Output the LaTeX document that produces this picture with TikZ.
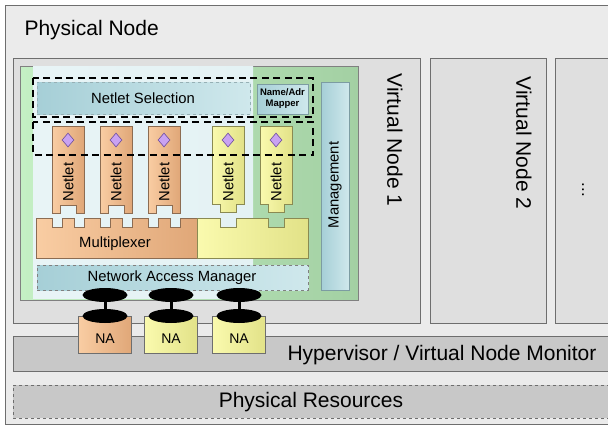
\documentclass[tikz,border=0pt]{standalone}
\usepackage{fontspec}
\setmainfont{Liberation Sans}
\usetikzlibrary{shapes.geometric}

\definecolor{outergray}{HTML}{EBEBEB}
\definecolor{vngray}{HTML}{DFDFDF}
\definecolor{framegray}{HTML}{6E6E6E}
\definecolor{layergray}{HTML}{C8C8C8}
\definecolor{greenL}{HTML}{C4EFC4}
\definecolor{greenR}{HTML}{A3D0A3}
\definecolor{paleL}{HTML}{E8F4F6}
\definecolor{paleM}{HTML}{BCDFE5}
\definecolor{paleR}{HTML}{E4F2F4}
\definecolor{tealL}{HTML}{A6CFD7}
\definecolor{tealR}{HTML}{CFE8EC}
\definecolor{tealline}{HTML}{7C9CA2}
\definecolor{orangeL}{HTML}{F9CDA3}
\definecolor{orangeR}{HTML}{E0A778}
\definecolor{orangeline}{HTML}{8C6C52}
\definecolor{yellowL}{HTML}{FAFAAE}
\definecolor{yellowR}{HTML}{E2E288}
\definecolor{yellowline}{HTML}{8A8A52}
\definecolor{lilac}{HTML}{C9A2F2}
\definecolor{lilacline}{HTML}{6E4E9E}

\begin{document}
\begin{tikzpicture}[x=1pt,y=-1pt,
  big/.style={font=\fontsize{21}{25}\selectfont},
  mid/.style={font=\fontsize{14.8}{17}\selectfont},
  frame/.style={draw=framegray, line width=0.9pt},
  corner/.style={anchor=north west, inner sep=0pt},
  netorange/.style={draw=orangeline, line width=0.7pt, left color=orangeL, right color=orangeR},
  netyellow/.style={draw=yellowline, line width=0.7pt, left color=yellowL, right color=yellowR},
  netdia/.style={diamond, draw=lilacline, fill=lilac, line width=0.6pt,
    minimum width=12, minimum height=14, inner sep=0pt},
  tealbox/.style={corner, draw=tealline, line width=0.7pt, left color=tealL, right color=tealR},
  sel/.style={draw=black, line width=2.2pt, dash pattern=on 7pt off 4.5pt},
  disc/.style={ellipse, fill=black, minimum width=45, minimum height=14, inner sep=0pt},
  stem/.style={line width=3pt},
  nabox/.style={draw=framegray, line width=0.7pt, minimum width=53, minimum height=37, inner sep=0pt},
  naorange/.style={left color=orangeL, right color=orangeR},
  nayellow/.style={left color=yellowL, right color=yellowR},
]
\useasboundingbox (0,0) rectangle (608,426);
\clip (0,0) rectangle (608,426);

% 物理节点
\node[corner, frame, fill=outergray, minimum width=620, minimum height=419] (phys) at (5,5) {};
\node[big, anchor=west] (physlabel) at (21,30) {Physical Node};

% 虚拟节点
\node[corner, frame, fill=vngray, minimum width=407, minimum height=265] (vn1) at (13,58) {};
\node[corner, frame, fill=vngray, minimum width=116, minimum height=265] (vn2) at (430,58) {};
\node[corner, frame, fill=vngray, minimum width=70, minimum height=265] (vn3) at (555,58) {};
\node[big, rotate=-90] (vn1label) at (395,140) {Virtual Node 1};
\node[big, rotate=-90] (vn2label) at (524,143) {Virtual Node 2};
\node[font=\fontsize{17}{20}\selectfont, rotate=-90] (vn3label) at (583,190) {...};

% Hypervisor 与物理资源
\node[corner, frame, fill=layergray, minimum width=620, minimum height=35] (hyp) at (13,336) {};
\node[big] (hyplabel) at (442,355) {Hypervisor / Virtual Node Monitor};
\node[corner, draw=framegray, line width=0.8pt, dashed, fill=layergray,
  minimum width=597, minimum height=33] (res) at (13,385) {};
\node[big] (reslabel) at (311,402) {Physical Resources};

% 节点内部
\node[corner, draw=gray, line width=0.6pt, left color=greenL, right color=greenR,
  minimum width=338, minimum height=234] (stack) at (20,66) {};
\node[corner, left color=paleL, middle color=paleM, right color=paleR,
  minimum width=220, minimum height=232] (plane) at (33,66.5) {};

\node[tealbox, draw=tealline!80, dashed, minimum width=213, minimum height=32] (select) at (37,82) {};
\node[mid] (selectlabel) at (143,98) {Netlet Selection};
\node[tealbox, minimum width=51, minimum height=30] (mapper) at (257,84) {};
\node[font=\fontsize{9.5}{11}\bfseries, align=center] (mapperlabel) at (282.5,98.5) {Name/Adr\\Mapper};
\node[tealbox, minimum width=28, minimum height=208] (mgmt) at (321,82) {};
\node[mid, rotate=90] (mgmtlabel) at (335,185) {Management};

% Netlets
\foreach \x [count=\i] in {52,100,148} {
  \path[netorange] (\x,126) -- ++(32,0) -- ++(0,87) -- ++(-8,0) -- ++(0,-8)
    -- ++(-16,0) -- ++(0,8) -- ++(-8,0) -- cycle;
  \node[netdia] (dia\i) at (\x+16,140) {};
  \node[mid, rotate=90] (netlet\i) at (\x+16,182) {Netlet};
}
\foreach \x [count=\i from 4] in {212,260} {
  \path[netyellow] (\x,126) -- ++(32,0) -- ++(0,78) -- ++(-8,0) -- ++(0,8)
    -- ++(-16,0) -- ++(0,-8) -- ++(-8,0) -- cycle;
  \node[netdia] (dia\i) at (\x+16,140) {};
  \node[mid, rotate=90] (netlet\i) at (\x+16,182) {Netlet};
}

% Multiplexer
\path[netorange] (36,258) -- (36,218)
  \foreach \x in {52,100,148} {
    -- (\x,218) -- (\x,227) -- (\x+10,227) -- (\x+10,218)
    -- (\x+22,218) -- (\x+22,227) -- (\x+32,227) -- (\x+32,218)}
  -- (197,218) -- (197,258) -- cycle;
\path[netyellow] (197,258) -- (197,218)
  \foreach \x in {212,260} {
    -- (\x+8,218) -- (\x+8,227) -- (\x+24,227) -- (\x+24,218)}
  -- (308,218) -- (308,258) -- cycle;
\node[mid] (muxlabel) at (115,244) {Multiplexer};

\node[tealbox, draw=gray, dashed, minimum width=271, minimum height=25] (nam) at (37,265) {};
\node[mid] (namlabel) at (172,277.5) {Network Access Manager};

% 选择范围（虚线框）
\draw[sel] (33,78) rectangle (313,117);
\draw[sel] (33,122) rectangle (313,155);

% Network Access
\foreach \c/\sty [count=\i] in {105/naorange,171/nayellow,239/nayellow} {
  \node[nabox, \sty] (na\i) at (\c,334.5) {};
  \node[disc] (plug\i) at (\c,316) {};
  \node[disc] (cap\i) at (\c,295) {};
  \draw[stem] (cap\i) -- (plug\i);
  \node[font=\fontsize{14}{16}\selectfont] (nalabel\i) at (\c,339) {NA};
}
\end{tikzpicture}
\end{document}
